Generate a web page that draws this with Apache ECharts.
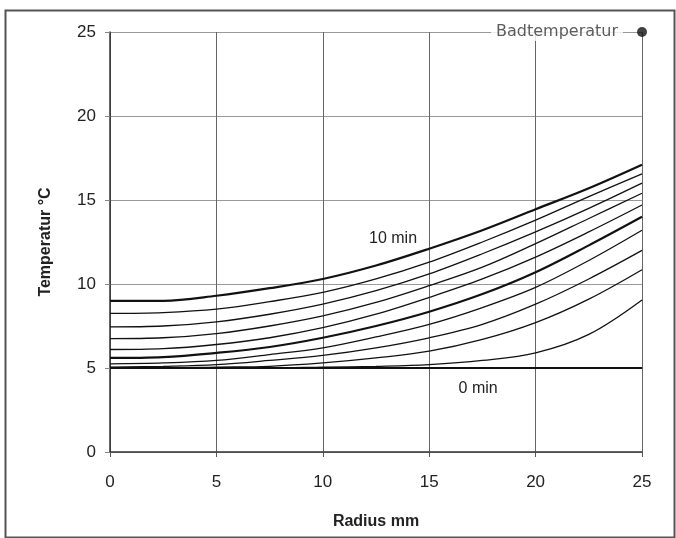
<!DOCTYPE html>
<html>
<head>
<meta charset="utf-8">
<script src="https://cdn.jsdelivr.net/npm/echarts@6/dist/echarts.min.js"></script>
<style>
  html, body { margin: 0; padding: 0; background: #fff; }
  #chart { width: 676px; height: 538px; }
</style>
</head>
<body>
<div id="chart"></div>
<script>
// Radius mm (x positions of the read points)
const radius = [0, 2.5, 5, 7.5, 10, 12.5, 15, 17.5, 20, 22.5, 25];

// temperature profiles, one per minute
const t0 = [5, 5, 5, 5, 5, 5, 5, 5, 5, 5, 5];
const t1 = [5.0, 5.0, 5.0, 5.0, 5.05, 5.1, 5.2, 5.45, 5.9, 7.0, 9.05];
const t2 = [5.0, 5.0, 5.05, 5.1, 5.3, 5.6, 6.0, 6.7, 7.7, 9.1, 10.85];
const t3 = [5.05, 5.1, 5.2, 5.45, 5.75, 6.2, 6.8, 7.6, 8.8, 10.3, 12.0];
const t4 = [5.25, 5.3, 5.45, 5.8, 6.2, 6.85, 7.6, 8.6, 9.8, 11.4, 13.2];
const t5 = [5.6, 5.65, 5.9, 6.25, 6.8, 7.5, 8.35, 9.4, 10.7, 12.3, 14.0];
const t6 = [6.1, 6.15, 6.4, 6.8, 7.4, 8.2, 9.2, 10.3, 11.6, 13.1, 14.7];
const t7 = [6.75, 6.8, 7.05, 7.5, 8.1, 8.9, 9.9, 11.0, 12.4, 13.9, 15.4];
const t8 = [7.45, 7.5, 7.75, 8.2, 8.8, 9.6, 10.6, 11.8, 13.1, 14.5, 16.0];
const t9 = [8.25, 8.3, 8.5, 8.95, 9.5, 10.3, 11.3, 12.5, 13.8, 15.2, 16.55];
const t10 = [9.0, 9.0, 9.3, 9.75, 10.3, 11.1, 12.1, 13.2, 14.45, 15.7, 17.1];

const profiles = [t0, t1, t2, t3, t4, t5, t6, t7, t8, t9, t10];
const minuteNames = ["0 min", "1 min", "2 min", "3 min", "4 min", "5 min", "6 min", "7 min", "8 min", "9 min", "10 min"];

// Badtemperatur point
const bathPoint = [25, 25];

// curve labels
const label10 = { text: "10 min", at: [13.3, 12.7] };
const label0 = { text: "0 min", at: [17.3, 3.8] };

const font = "Liberation Sans, Arial, sans-serif";

let myChart = echarts.init(document.getElementById("chart"));

let series = profiles.map(function (temps, i) {
  let bold = i % 5 === 0;
  let s = {
    name: minuteNames[i],
    type: "line",
    smooth: 0.35,
    showSymbol: false,
    silent: true,
    data: radius.map(function (r, k) { return [r, temps[k]]; }),
    lineStyle: { color: "#111", width: bold ? 2.2 : 1.3 },
    z: 3,
  };
  let lab = i === 10 ? label10 : i === 0 ? label0 : null;
  if (lab) {
    s.markPoint = {
      symbol: "circle",
      symbolSize: 0,
      silent: true,
      data: [{ coord: lab.at }],
      label: {
        show: true,
        formatter: lab.text,
        color: "#222",
        fontFamily: font,
        fontSize: 16,
      },
    };
  }
  return s;
});

series.push({
  name: "Badtemperatur",
  type: "scatter",
  symbol: "circle",
  symbolSize: 10,
  data: [bathPoint],
  itemStyle: { color: "#111" },
  z: 5,
  label: {
    show: true,
    position: "left",
    distance: 14,
    formatter: "Badtemperatur",
    color: "#333",
    fontFamily: "DejaVu Sans, sans-serif",
    fontSize: 16,
    backgroundColor: "#fff",
    padding: [1, 5],
  },
});

let option = {
  animation: false,
  backgroundColor: "#fff",
  grid: { left: 110, right: 34, top: 32, bottom: 86 },
  xAxis: {
    type: "value",
    min: 0,
    max: 25,
    interval: 5,
    name: "Radius mm",
    nameLocation: "middle",
    nameGap: 62,
    nameTextStyle: { fontFamily: font, fontSize: 16, fontWeight: "bold", color: "#222" },
    axisLine: { show: true, lineStyle: { color: "#333", width: 1.5 } },
    axisTick: { show: true, length: 5, lineStyle: { color: "#555" } },
    axisLabel: { margin: 22, fontFamily: font, fontSize: 17, color: "#222" },
    splitLine: { show: true, lineStyle: { color: "#666", width: 1 } },
  },
  yAxis: {
    type: "value",
    min: 0,
    max: 25,
    interval: 5,
    name: "Temperatur °C",
    nameLocation: "middle",
    nameGap: 56,
    nameRotate: 90,
    nameTextStyle: { fontFamily: font, fontSize: 16, fontWeight: "bold", color: "#222" },
    axisLine: { show: true, lineStyle: { color: "#333", width: 1.5 } },
    axisTick: { show: true, length: 5, lineStyle: { color: "#888" } },
    axisLabel: { margin: 14, fontFamily: font, fontSize: 17, color: "#222" },
    splitLine: { show: true, lineStyle: { color: "#999", width: 1 } },
  },
  graphic: [
    {
      type: "rect",
      left: 3,
      top: 8,
      shape: { width: 669, height: 527 },
      style: { fill: "none", stroke: "#555", lineWidth: 2 },
      silent: true,
    },
  ],
  series: series,
};

option && myChart.setOption(option);
</script>
</body>
</html>
